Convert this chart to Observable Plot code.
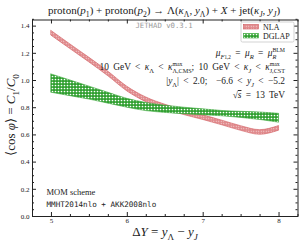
<!DOCTYPE html>
<html><head><meta charset="utf-8">
<script src="https://cdn.jsdelivr.net/npm/d3@7"></script>
<script src="https://cdn.jsdelivr.net/npm/@observablehq/plot@0.6"></script>
<style>body{margin:0;background:#fff} svg{display:block}</style>
</head><body><div id="chart"></div>
<script>
// ---- data ----
const deltaY  = [5, 5.25, 5.5, 5.75, 6, 6.25, 6.5, 6.75, 7, 7.25, 7.5, 7.75, 8];
const nlaLo   = [1.330, 1.231, 1.133, 1.031, 0.920, 0.841, 0.788, 0.746, 0.710, 0.671, 0.630, 0.601, 0.631];
const nlaHi   = [1.364, 1.265, 1.167, 1.065, 0.954, 0.875, 0.822, 0.780, 0.744, 0.705, 0.664, 0.635, 0.665];
const dglapLo = [0.910, 0.885, 0.860, 0.830, 0.800, 0.775, 0.762, 0.752, 0.745, 0.737, 0.725, 0.710, 0.690];
const dglapHi = [1.045, 1.000, 0.955, 0.910, 0.865, 0.835, 0.815, 0.800, 0.788, 0.776, 0.770, 0.765, 0.755];
const xMajor = [5, 6, 7, 8];
const xMinor = [4.75, 5.25, 5.5, 5.75, 6.25, 6.5, 6.75, 7.25, 7.5, 7.75, 8.25];
const yMajor = [0, 0.2, 0.4, 0.6, 0.8, 1.0, 1.2, 1.4];
const yMinor = [0.05,0.1,0.15,0.25,0.3,0.35,0.45,0.5,0.55,0.65,0.7,0.75,0.85,0.9,0.95,1.05,1.1,1.15,1.25,1.3,1.35,1.45];
const seriesNames = ["NLA", "DGLAP"];

const W = 303, H = 246, mL = 32, mR = 5.5, mT = 19.5, mB = 30;
const innerH = H - mT - mB, innerW = W - mL - mR;
const serif = "'Liberation Serif','DejaVu Serif',serif";
const mono = "'DejaVu Sans Mono','Liberation Mono',monospace";
const ink = "#222";
const rows = deltaY.map((x, i) => ({x, nlaLo: nlaLo[i], nlaHi: nlaHi[i], dgLo: dglapLo[i], dgHi: dglapHi[i]}));

const chart = Plot.plot({
  width: W, height: H, marginLeft: mL, marginRight: mR, marginTop: mT, marginBottom: mB,
  style: {fontFamily: serif, fontSize: "7px", background: "white", color: ink},
  x: {domain: [4.75, 8.25]},
  y: {domain: [0, 1.445]},
  marks: [
    Plot.areaY(rows, {x: "x", y1: "nlaLo", y2: "nlaHi", fill: "url(#patNLA)", stroke: "#d0575b", strokeWidth: 0.6, curve: "monotone-x"}),
    Plot.areaY(rows, {x: "x", y1: "dgLo", y2: "dgHi", fill: "url(#patDG)", stroke: "#3aa83a", strokeWidth: 0.6, curve: "monotone-x"}),
    Plot.tickX(xMajor, {x: d => d, insetTop: innerH - 4, stroke: ink}),
    Plot.tickX(xMajor, {x: d => d, insetBottom: innerH - 4, stroke: ink}),
    Plot.tickX(xMinor, {x: d => d, insetTop: innerH - 2, stroke: ink}),
    Plot.tickX(xMinor, {x: d => d, insetBottom: innerH - 2, stroke: ink}),
    Plot.tickY(yMajor, {y: d => d, insetRight: innerW - 4, stroke: ink}),
    Plot.tickY(yMajor, {y: d => d, insetLeft: innerW - 4, stroke: ink}),
    Plot.tickY(yMinor, {y: d => d, insetRight: innerW - 2, stroke: ink}),
    Plot.tickY(yMinor, {y: d => d, insetLeft: innerW - 2, stroke: ink}),
    Plot.axisX({ticks: xMajor, tickSize: 0, tickPadding: 2, label: null, fontSize: 7, tickFormat: d3.format("d")}),
    Plot.axisY({ticks: yMajor, tickSize: 0, tickPadding: 3, label: null, fontSize: 7, tickFormat: d3.format(".1f")}),
    Plot.frame({stroke: ink, strokeWidth: 1})
  ]
});
document.getElementById("chart").append(chart);
const svg = d3.select(chart);

// patterns
const defs = svg.insert("defs", ":first-child");
const pN = defs.append("pattern").attr("id", "patNLA").attr("patternUnits", "userSpaceOnUse").attr("width", 2.5).attr("height", 2.5);
pN.append("rect").attr("width", 2.5).attr("height", 2.5).attr("fill", "#e08a8d");
pN.append("circle").attr("cx", 1.25).attr("cy", 1.25).attr("r", 0.55).attr("fill", "#f8e0e0");
const pG = defs.append("pattern").attr("id", "patDG").attr("patternUnits", "userSpaceOnUse").attr("width", 3).attr("height", 3);
pG.append("rect").attr("width", 3).attr("height", 3).attr("fill", "#2f9f2f");
pG.append("circle").attr("cx", 1.5).attr("cy", 1.5).attr("r", 0.85).attr("fill", "#ffffff");

function txt(x, y, s, fs, anchor, family, color) {
  return svg.append("text").attr("x", x).attr("y", y).attr("font-size", fs).attr("text-anchor", anchor)
    .attr("font-family", family).attr("fill", color || ink).text(s);
}

function rich(x, y, parts, fs, anchor = "start", family = serif, color = ink, ws = 0) {
  const t = svg.append("text").attr("x", x).attr("y", y).attr("font-size", fs)
    .attr("text-anchor", anchor).attr("font-family", family).attr("fill", color);
  if (ws) t.attr("word-spacing", ws);
  let shift = 0, pendingDx = 0;
  for (const p of parts) {
    if (p.stack) {
      const sb = t.append("tspan").text(p.stack[1]).attr("font-size", fs * 0.66).attr("dy", fs * 0.3 - shift);
      if (p.ibot) sb.attr("font-style", "italic");
      if (pendingDx) sb.attr("dx", pendingDx);
      const lb = sb.node().getComputedTextLength();
      const sp = t.append("tspan").text(p.stack[0]).attr("font-size", fs * 0.62).attr("dy", -fs * 0.75).attr("dx", -lb);
      const ls = sp.node().getComputedTextLength();
      shift = -fs * 0.45;
      pendingDx = Math.max(0, lb - ls);
      continue;
    }
    const target = p.sub ? fs * 0.3 : p.sup ? -fs * 0.4 : 0;
    const ts = t.append("tspan").text(p.t).attr("dy", target - shift);
    if (pendingDx) ts.attr("dx", pendingDx);
    pendingDx = 0;
    if (p.sub || p.sup) ts.attr("font-size", fs * (p.small ? 0.55 : 0.7));
    if (p.i) ts.attr("font-style", "italic");
    if (p.over) ts.attr("text-decoration", "overline");
    shift = target;
  }
  return t;
}

// title
rich(164, 14, [
  {t: "proton("}, {t: "p", i: 1}, {t: "1", sub: 1}, {t: ") + proton("}, {t: "p", i: 1}, {t: "2", sub: 1},
  {t: ") → Λ("}, {t: "κ", i: 1}, {t: "Λ", sub: 1}, {t: ", "}, {t: "y", i: 1}, {t: "Λ", sub: 1},
  {t: ") + "}, {t: "X", i: 1}, {t: " + jet("}, {t: "κ", i: 1}, {t: "J", sub: 1, i: 1}, {t: ", "},
  {t: "y", i: 1}, {t: "J", sub: 1, i: 1}, {t: ")"}
], 11, "middle");

// watermark
txt(164, 28, "JETHAD v0.3.1", 7.3, "middle", mono, "#9a9a9a");

// annotations
const ax = 285, afs = 9.4, aws = 2;
rich(ax, 56, [{t: "μ", i: 1}, {t: "F", sub: 1, i: 1}, {t: "1,2", sub: 1, small: 1}, {t: " = "}, {t: "μ", i: 1}, {t: "R", sub: 1, i: 1},
  {t: " = "}, {t: "μ", i: 1}, {stack: ["BLM", "R"], ibot: 1}], afs, "end", serif, ink, aws);
rich(ax, 70, [{t: "10 GeV < "}, {t: "κ", i: 1}, {t: "Λ", sub: 1}, {t: " < "}, {t: "κ", i: 1}, {stack: ["max", "Λ,CMS"]},
  {t: "; 10 GeV < "}, {t: "κ", i: 1}, {t: "J", sub: 1, i: 1}, {t: " < "}, {t: "κ", i: 1}, {stack: ["max", "J,CST"]}], afs, "end", serif, ink, aws);
rich(ax, 84, [{t: "|"}, {t: "y", i: 1}, {t: "Λ", sub: 1}, {t: "| < 2.0;  −6.6 < "}, {t: "y", i: 1}, {t: "J", sub: 1, i: 1}, {t: " < −5.2"}], afs, "end", serif, ink, aws);
rich(ax, 98, [{t: "√"}, {t: "s", i: 1, over: 1}, {t: " = 13 TeV"}], afs, "end", serif, ink, aws);

// bottom-left notes
txt(46.5, 195, "MOM scheme", 8.5, "start", serif);
txt(46.5, 207, "MMHT2014nlo + AKK2008nlo", 7.6, "start", mono);

// axis labels
rich(165, 236, [{t: "Δ"}, {t: "Y", i: 1}, {t: " = "}, {t: "y", i: 1}, {t: "Λ", sub: 1}, {t: " − "}, {t: "y", i: 1}, {t: "J", sub: 1, i: 1}], 13, "middle");
const yl = rich(0, 0, [{t: "⟨cos "}, {t: "φ", i: 1}, {t: "⟩ = "}, {t: "C", i: 1}, {t: "1", sub: 1}, {t: "/"}, {t: "C", i: 1}, {t: "0", sub: 1}], 13, "middle");
yl.attr("transform", "translate(15,115) rotate(-90)");

// legend
const lg = svg.append("g");
lg.append("rect").attr("x", 241).attr("y", 22).attr("width", 53).attr("height", 20).attr("rx", 1.5)
  .attr("fill", "white").attr("stroke", "#c8c8c8").attr("stroke-width", 0.8);
const sw = [{fill: "url(#patNLA)", stroke: "#d0575b", y: 24.5}, {fill: "url(#patDG)", stroke: "#3aa83a", y: 33.5}];
seriesNames.forEach((name, i) => {
  lg.append("rect").attr("x", 243.5).attr("y", sw[i].y).attr("width", 15).attr("height", 4.5)
    .attr("fill", sw[i].fill).attr("stroke", sw[i].stroke).attr("stroke-width", 0.6);
  lg.append("text").attr("x", 263).attr("y", sw[i].y + 5).attr("text-anchor", "start").attr("font-family", serif)
    .attr("font-size", 8).attr("fill", ink).text(name);
});
</script></body></html>
